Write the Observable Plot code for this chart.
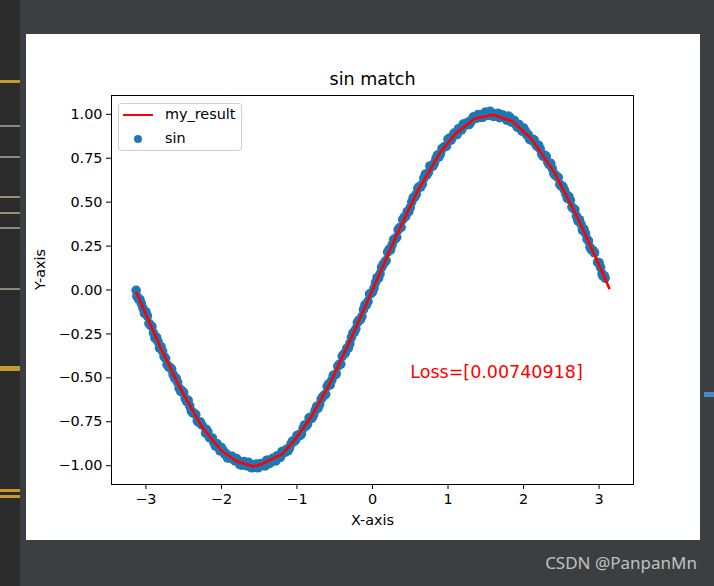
<!DOCTYPE html>
<html>
<head>
<meta charset="utf-8">
<script src="https://cdn.jsdelivr.net/npm/d3@7"></script>
<script src="https://cdn.jsdelivr.net/npm/@observablehq/plot@0.6"></script>
<style>
  html, body { margin: 0; padding: 0; }
  body { width: 714px; height: 586px; background: #3c3f41; position: relative; overflow: hidden; font-family: "DejaVu Sans", sans-serif; }
  #sidebar { position: absolute; left: 0; top: 0; width: 20px; height: 586px; background: #2b2b2b; }
  #sidebar div { position: absolute; left: 0; width: 20px; }
  #figure { position: absolute; left: 26px; top: 34px; width: 674px; height: 506px; background: #ffffff; }
  #chart { position: absolute; left: 0; top: 0; }
  #legend { position: absolute; left: 118px; top: 103px; width: 122px; height: 46px; border: 1px solid #d0d0d0; border-radius: 3px; background: rgba(255,255,255,0.8); }
  #legend .lab { position: absolute; left: 46px; font-size: 14.4px; line-height: 16px; color: #000; white-space: nowrap; }
  #watermark { position: absolute; right: 17px; top: 551px; font-family: "Noto Sans", sans-serif; font-size: 17px; color: #c0c1c2; white-space: nowrap; }
  #bluemark { position: absolute; left: 704px; top: 392px; width: 10px; height: 5px; background: #4a88c7; }
</style>
</head>
<body>
<div id="sidebar"></div>
<div id="figure"></div>
<div id="chart"></div>
<div id="legend"></div>
<div id="bluemark"></div>
<div id="watermark"></div>
<script>
// ---- data ----
const titleText = "sin match";
const xLabel = "X-axis";
const yLabel = "Y-axis";
const legendLabels = ["my_result", "sin"];
const xTicks = [-3, -2, -1, 0, 1, 2, 3];
const yTicks = [-1, -0.75, -0.5, -0.25, 0, 0.25, 0.5, 0.75, 1];

// scatter "sin" (noisy samples) in two interleaved passes
const sinXa = [
  -3.13, -3.10, -3.06, -3.02, -2.98, -2.94, -2.90, -2.86, -2.82, -2.78,
  -2.74, -2.70, -2.66, -2.62, -2.58, -2.54, -2.50, -2.46, -2.42, -2.38,
  -2.34, -2.30, -2.26, -2.21, -2.18, -2.14, -2.10, -2.06, -2.02, -1.98,
  -1.94, -1.90, -1.86, -1.82, -1.78, -1.74, -1.70, -1.66, -1.62, -1.58,
  -1.54, -1.50, -1.46, -1.42, -1.38, -1.34, -1.30, -1.26, -1.22, -1.18,
  -1.14, -1.10, -1.06, -1.02, -0.98, -0.94, -0.90, -0.86, -0.82, -0.78,
  -0.74, -0.70, -0.66, -0.62, -0.58, -0.54, -0.50, -0.46, -0.42, -0.38,
  -0.34, -0.30, -0.26, -0.22, -0.18, -0.14, -0.10, -0.06, -0.02,
  0.02, 0.06, 0.10, 0.14, 0.18, 0.22, 0.26, 0.30, 0.34, 0.38,
  0.42, 0.46, 0.50, 0.54, 0.58, 0.62, 0.66, 0.70, 0.74, 0.78,
  0.82, 0.86, 0.90, 0.94, 0.98, 1.02, 1.06, 1.10, 1.14, 1.18,
  1.22, 1.26, 1.30, 1.34, 1.38, 1.42, 1.46, 1.50, 1.54, 1.58,
  1.62, 1.66, 1.70, 1.74, 1.78, 1.82, 1.86, 1.90, 1.94, 1.98,
  2.02, 2.06, 2.10, 2.14, 2.18, 2.22, 2.26, 2.30, 2.34, 2.38,
  2.42, 2.46, 2.50, 2.54, 2.58, 2.62, 2.66, 2.70, 2.74, 2.78,
  2.82, 2.86, 2.90, 2.94, 2.98, 3.02, 3.05, 3.08
];
const sinYa = [
  -0.002, -0.050, -0.078, -0.133, -0.148, -0.200, -0.245, -0.269, -0.330, -0.348,
  -0.389, -0.437, -0.451, -0.501, -0.526, -0.577, -0.584, -0.635, -0.660, -0.699,
  -0.709, -0.754, -0.768, -0.814, -0.807, -0.842, -0.869, -0.874, -0.915, -0.912,
  -0.931, -0.956, -0.947, -0.972, -0.971, -0.997, -0.977, -1.001, -0.998, -1.009,
  -0.990, -1.006, -0.990, -1.001, -0.969, -0.974, -0.970, -0.943, -0.953, -0.919,
  -0.907, -0.901, -0.860, -0.855, -0.824, -0.819, -0.768, -0.763, -0.730, -0.712,
  -0.664, -0.652, -0.609, -0.593, -0.535, -0.514, -0.485, -0.435, -0.422, -0.365,
  -0.332, -0.306, -0.245, -0.221, -0.172, -0.151, -0.085, -0.065, -0.019,
  0.011, 0.070, 0.092, 0.144, 0.167, 0.231, 0.257, 0.290, 0.343, 0.357,
  0.414, 0.446, 0.469, 0.526, 0.545, 0.588, 0.602, 0.659, 0.669, 0.704,
  0.722, 0.768, 0.775, 0.812, 0.819, 0.865, 0.872, 0.885, 0.918, 0.911,
  0.945, 0.954, 0.954, 0.986, 0.979, 0.996, 0.983, 1.013, 0.995, 1.001,
  0.990, 1.006, 0.984, 0.990, 0.966, 0.982, 0.959, 0.940, 0.942, 0.904,
  0.907, 0.885, 0.853, 0.854, 0.817, 0.803, 0.761, 0.761, 0.714, 0.691,
  0.652, 0.640, 0.591, 0.570, 0.521, 0.511, 0.463, 0.421, 0.400, 0.340,
  0.322, 0.280, 0.229, 0.212, 0.158, 0.128, 0.081, 0.067
];
const sinXb = [
  -3.12, -3.08, -3.04, -3.00, -2.96, -2.92, -2.88, -2.84, -2.80, -2.76,
  -2.72, -2.68, -2.64, -2.60, -2.56, -2.52, -2.48, -2.44, -2.40, -2.36,
  -2.32, -2.28, -2.20, -2.16, -2.12, -2.08, -2.04, -2.00, -1.96, -1.92,
  -1.88, -1.84, -1.80, -1.76, -1.72, -1.68, -1.64, -1.60, -1.56, -1.52,
  -1.48, -1.44, -1.40, -1.36, -1.32, -1.28, -1.24, -1.20, -1.16, -1.12,
  -1.08, -1.04, -1.00, -0.96, -0.92, -0.88, -0.84, -0.80, -0.76, -0.72,
  -0.68, -0.64, -0.60, -0.56, -0.52, -0.48, -0.44, -0.40, -0.36, -0.32,
  -0.28, -0.24, -0.20, -0.16, -0.12, -0.08, -0.04, 0.00,
  0.04, 0.08, 0.12, 0.16, 0.20, 0.24, 0.28, 0.32, 0.36, 0.40,
  0.44, 0.48, 0.52, 0.56, 0.60, 0.64, 0.68, 0.72, 0.76, 0.80,
  0.84, 0.88, 0.92, 0.96, 1.00, 1.04, 1.08, 1.12, 1.16, 1.20,
  1.24, 1.28, 1.32, 1.36, 1.40, 1.44, 1.48, 1.52, 1.56, 1.60,
  1.64, 1.68, 1.72, 1.76, 1.80, 1.84, 1.88, 1.92, 1.96, 2.00,
  2.04, 2.08, 2.12, 2.16, 2.20, 2.24, 2.28, 2.32, 2.36, 2.40,
  2.44, 2.48, 2.52, 2.56, 2.60, 2.64, 2.68, 2.72, 2.76, 2.80,
  2.84, 2.88, 2.92, 3.00, 3.04, 3.07
];
const sinYb = [
  -0.035, -0.054, -0.103, -0.125, -0.190, -0.209, -0.274, -0.294, -0.323, -0.379,
  -0.425, -0.441, -0.482, -0.502, -0.559, -0.574, -0.618, -0.628, -0.688, -0.702,
  -0.745, -0.751, -0.793, -0.840, -0.842, -0.888, -0.889, -0.897, -0.932, -0.956,
  -0.948, -0.965, -0.960, -0.992, -0.981, -0.998, -0.981, -1.012, -0.998, -1.012,
  -0.988, -0.994, -0.969, -0.987, -0.958, -0.973, -0.943, -0.920, -0.924, -0.916,
  -0.877, -0.863, -0.828, -0.829, -0.788, -0.775, -0.728, -0.729, -0.687, -0.672,
  -0.621, -0.599, -0.549, -0.540, -0.486, -0.477, -0.423, -0.377, -0.359, -0.331,
  -0.271, -0.239, -0.185, -0.169, -0.112, -0.084, -0.023, -0.012,
  0.042, 0.067, 0.128, 0.157, 0.215, 0.229, 0.287, 0.300, 0.355, 0.401,
  0.419, 0.446, 0.502, 0.530, 0.579, 0.587, 0.637, 0.655, 0.706, 0.705,
  0.747, 0.758, 0.804, 0.817, 0.858, 0.853, 0.893, 0.885, 0.920, 0.944,
  0.939, 0.942, 0.974, 0.977, 0.999, 0.982, 1.004, 0.995, 1.017, 0.988,
  1.000, 0.981, 0.997, 0.980, 0.990, 0.955, 0.964, 0.925, 0.928, 0.922,
  0.885, 0.857, 0.858, 0.830, 0.823, 0.774, 0.767, 0.728, 0.721, 0.664,
  0.647, 0.601, 0.590, 0.547, 0.532, 0.472, 0.457, 0.394, 0.375, 0.347,
  0.290, 0.243, 0.225, 0.155, 0.091, 0.080
];

// fitted line "my_result"
const fitX = [-3.13, -2.80, -2.55, -2.25, -2.00, -1.80, -1.57, -1.45, -1.32, -1.20,
              -1.05, -0.80, -0.55, -0.30, 0.00, 0.30, 0.60, 0.90, 1.10, 1.35,
              1.60, 1.85, 2.10, 2.40, 2.70, 2.95, 3.14];
const fitY = [-0.010, -0.335, -0.555, -0.785, -0.915, -0.975, -1.005, -0.988, -0.960, -0.935,
              -0.865, -0.715, -0.520, -0.290, 0.000, 0.295, 0.565, 0.785, 0.890, 0.975,
              0.998, 0.960, 0.862, 0.675, 0.425, 0.190, 0.005];

const lossX = [0.5];
const lossY = [-0.5];
const lossText = ["Loss=[0.00740918]"];

// ---- chart ----
const sinX = sinXa.concat(sinXb);
const sinY = sinYa.concat(sinYb);
const sinIdx = sinX.map((_, i) => i);
const fitIdx = fitX.map((_, i) => i);

const chart = Plot.plot({
  width: 714,
  height: 586,
  marginLeft: 111,
  marginRight: 81,
  marginTop: 95,
  marginBottom: 102,
  style: { background: "transparent", fontFamily: "DejaVu Sans", fontSize: "14.4px", color: "black", overflow: "visible" },
  x: { domain: [-3.4558, 3.4558] },
  y: { domain: [-1.107, 1.107] },
  marks: [
    Plot.dot(sinIdx, { x: i => sinX[i], y: i => sinY[i], r: 4.8, fill: "#1f77b4", stroke: null }),
    Plot.line(fitIdx, { x: i => fitX[i], y: i => fitY[i], stroke: "#ff0000", strokeWidth: 2.6, strokeLinejoin: "round", strokeLinecap: "butt" }),
    Plot.frame({ stroke: "black", strokeWidth: 1 }),
    Plot.axisX({ ticks: xTicks, tickSize: 5, tickPadding: 4, tickFormat: d3.format("d"), label: null, fontSize: 14.4 }),
    Plot.axisY({ ticks: yTicks, tickSize: 5, tickPadding: 4, tickFormat: d3.format(".2f"), label: null, fontSize: 14.4 }),
    Plot.text([titleText], { text: d => d, frameAnchor: "top", lineAnchor: "bottom", dy: -11, fontSize: 17.5, fill: "black" }),
    Plot.text([xLabel], { text: d => d, frameAnchor: "bottom", lineAnchor: "middle", dy: 36, fontSize: 14.4, fill: "black" }),
    Plot.text([yLabel], { text: d => d, frameAnchor: "left", lineAnchor: "middle", rotate: -90, dx: -71, fontSize: 14.4, fill: "black" }),
    Plot.text(lossText, { x: (d, i) => lossX[i], y: (d, i) => lossY[i], text: d => d, textAnchor: "start", lineAnchor: "bottom", fontSize: 17.5, fill: "#ff0000" })
  ]
});
document.getElementById("chart").appendChild(chart);

// ---- legend ----
const legend = document.getElementById("legend");
legend.innerHTML =
  '<div style="position:absolute;left:4px;top:9.5px;width:30px;height:2.6px;background:#ff0000"></div>' +
  '<div class="lab" style="top:2px">' + legendLabels[0] + '</div>' +
  '<div style="position:absolute;left:14.5px;top:30.5px;width:8.8px;height:8.8px;border-radius:50%;background:#1f77b4"></div>' +
  '<div class="lab" style="top:26px">' + legendLabels[1] + '</div>';

// ---- IDE surroundings ----
const marks = [[80, 3, "#c49a2c"], [125, 2, "#8a8a78"], [156, 2, "#8a8a78"], [196, 2, "#9a9270"], [212, 2, "#9a9270"],
               [227, 2, "#8a8a78"], [288, 2, "#8a8a78"], [366, 5, "#c49a2c"], [489, 3, "#c49a2c"], [495, 3, "#c49a2c"]];
const sb = document.getElementById("sidebar");
marks.forEach(([t, h, c]) => { const d = document.createElement("div"); d.style.top = t + "px"; d.style.height = h + "px"; d.style.background = c; sb.appendChild(d); });
document.getElementById("watermark").textContent = "CSDN @PanpanMn";
</script>
</body>
</html>
